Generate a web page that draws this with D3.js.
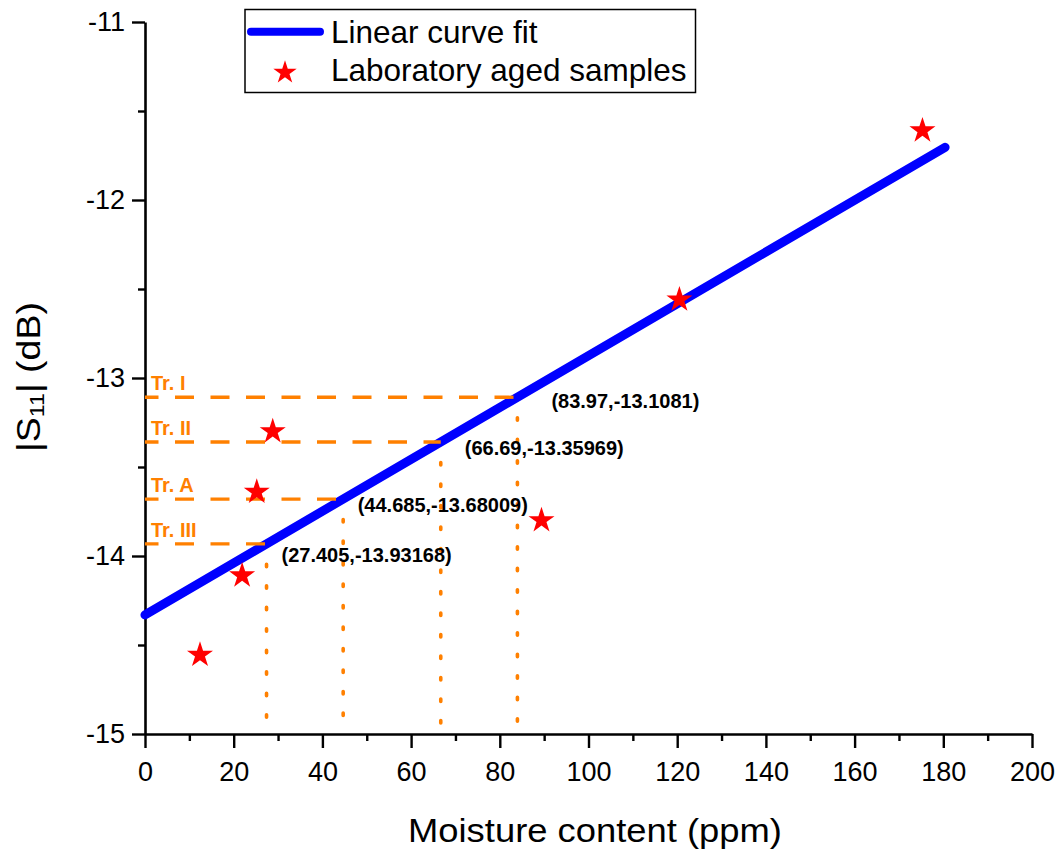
<!DOCTYPE html>
<html>
<head>
<meta charset="utf-8">
<script src="https://cdn.jsdelivr.net/npm/d3@7"></script>
<style>
  body { margin: 0; background: #fff; }
  svg { display: block; font-family: "Liberation Sans", Arial, sans-serif; }
</style>
</head>
<body>
<svg id="chart" width="1063" height="854"></svg>
<script>
// Axis ticks
const xTickValues = [0, 20, 40, 60, 80, 100, 120, 140, 160, 180, 200];
const xMinorTicks = [10, 30, 50, 70, 90, 110, 130, 150, 170, 190];
const yTickValues = [-15, -14, -13, -12, -11];
const yMinorTicks = [-14.5, -13.5, -12.5, -11.5];

// Laboratory aged samples: moisture (ppm) vs |S11| (dB)
const sampleMoisture = [12.4, 21.9, 25.2, 28.8, 89.4, 120.5, 175.3];
const sampleS11 = [-14.556, -14.11, -13.64, -13.30, -13.80, -12.56, -11.61];

// Linear curve fit end points
const fitMoisture = [0, 180.4];
const fitS11 = [-14.3307, -11.7041];

// Field transformers
const transformerNames = ["Tr. I", "Tr. II", "Tr. A", "Tr. III"];
const transformerMoisture = [83.97, 66.69, 44.685, 27.405];
const transformerS11 = [-13.1081, -13.35969, -13.68009, -13.93168];

const legendLabels = ["Linear curve fit", "Laboratory aged samples"];

// Placement of the coordinate annotations relative to their point
const annotationOffsets = [[34, 11], [24, 13], [14.5, 12.7], [15, 18]];

const ORANGE = "#ff8000";
const BLUE = "#0000ff";
const RED = "#ff0000";

const svg = d3.select("#chart");
const x = d3.scaleLinear().domain([0, 200]).range([145, 1032]);
const y = d3.scaleLinear().domain([-15, -11]).range([734, 22]);

// plain hyphen-minus tick labels
const plainFormat = d => String(d);

// ---- axes ----
function styleAxis(g) {
  g.selectAll("path.domain").attr("stroke", "#000").attr("stroke-width", 2.6);
  g.selectAll(".tick line").attr("stroke", "#000").attr("stroke-width", 2.4);
  g.selectAll(".tick text").attr("fill", "#000").attr("font-size", 27)
    .attr("font-family", "'Liberation Sans', Arial, sans-serif");
}

const xAxisG = svg.append("g").attr("transform", `translate(0,${y(-15)})`)
  .call(d3.axisBottom(x).tickValues(xTickValues).tickFormat(plainFormat)
    .tickSize(14).tickSizeOuter(0).tickPadding(14));
styleAxis(xAxisG);
const xMinorG = svg.append("g").attr("transform", `translate(0,${y(-15)})`)
  .call(d3.axisBottom(x).tickValues(xMinorTicks).tickSize(7).tickFormat(""));
xMinorG.select("path.domain").remove();
styleAxis(xMinorG);

const yAxisG = svg.append("g").attr("transform", `translate(${x(0)},0)`)
  .call(d3.axisLeft(y).tickValues(yTickValues).tickFormat(plainFormat)
    .tickSize(13).tickSizeOuter(0).tickPadding(7));
styleAxis(yAxisG);
const yMinorG = svg.append("g").attr("transform", `translate(${x(0)},0)`)
  .call(d3.axisLeft(y).tickValues(yMinorTicks).tickSize(7).tickFormat(""));
yMinorG.select("path.domain").remove();
styleAxis(yMinorG);

// ---- axis titles ----
svg.append("text")
  .attr("x", 595).attr("y", 842)
  .attr("text-anchor", "middle")
  .attr("font-size", 34)
  .attr("textLength", 374).attr("lengthAdjust", "spacingAndGlyphs")
  .text("Moisture content (ppm)");

const yTitle = svg.append("text")
  .attr("transform", "translate(40,377) rotate(-90)")
  .attr("text-anchor", "middle")
  .attr("font-size", 34)
  .attr("textLength", 150).attr("lengthAdjust", "spacingAndGlyphs");
yTitle.append("tspan").text("|S");
yTitle.append("tspan").attr("font-size", 21).attr("dy", 4).text("11");
yTitle.append("tspan").attr("dy", -4).text("| (dB)");

// ---- linear fit ----
const fitPoints = fitMoisture.map((m, i) => [m, fitS11[i]]);
svg.append("path")
  .datum(fitPoints)
  .attr("d", d3.line().x(d => x(d[0])).y(d => y(d[1])))
  .attr("fill", "none")
  .attr("stroke", BLUE)
  .attr("stroke-width", 9)
  .attr("stroke-linecap", "round");

// ---- transformer guide lines ----
const transformers = transformerNames.map((name, i) => ({
  name, m: transformerMoisture[i], s: transformerS11[i], off: annotationOffsets[i]
}));

const guides = svg.append("g");
guides.selectAll("line.h").data(transformers).join("line")
  .attr("class", "h")
  .attr("x1", x(0)).attr("x2", d => x(d.m))
  .attr("y1", d => y(d.s)).attr("y2", d => y(d.s))
  .attr("stroke", ORANGE).attr("stroke-width", 3.3)
  .attr("stroke-dasharray", "19,16.5").attr("stroke-dashoffset", 5.5);

guides.selectAll("line.v").data(transformers).join("line")
  .attr("class", "v")
  .attr("x1", d => x(d.m)).attr("x2", d => x(d.m))
  .attr("y1", d => y(d.s) + 2).attr("y2", y(-15) - 4)
  .attr("stroke", ORANGE).attr("stroke-width", 3.6)
  .attr("stroke-linecap", "round")
  .attr("stroke-dasharray", "2.4,19.1").attr("stroke-dashoffset", -18.5);

guides.selectAll("text.name").data(transformers).join("text")
  .attr("class", "name")
  .attr("x", x(0) + 6).attr("y", d => y(d.s) - 7)
  .attr("fill", ORANGE).attr("font-size", 20).attr("font-weight", "bold")
  .text(d => d.name);

guides.selectAll("text.coord").data(transformers).join("text")
  .attr("class", "coord")
  .attr("x", d => x(d.m) + d.off[0]).attr("y", d => y(d.s) + d.off[1])
  .attr("fill", "#000").attr("font-size", 20).attr("font-weight", "bold")
  .text(d => `(${d.m},${d.s})`);

// ---- samples ----
const samples = sampleMoisture.map((m, i) => [m, sampleS11[i]]);
svg.append("g").selectAll("path").data(samples).join("path")
  .attr("transform", d => `translate(${x(d[0])},${y(d[1])})`)
  .attr("d", d3.symbol(d3.symbolStar, 210))
  .attr("fill", RED);

// ---- legend ----
const legend = svg.append("g");
legend.append("rect")
  .attr("x", 245).attr("y", 9.5).attr("width", 450.5).attr("height", 83)
  .attr("fill", "#fff").attr("stroke", "#000").attr("stroke-width", 1.5);
legend.append("line")
  .attr("x1", 251).attr("x2", 320).attr("y1", 31.7).attr("y2", 31.7)
  .attr("stroke", BLUE).attr("stroke-width", 8).attr("stroke-linecap", "round");
legend.append("path")
  .attr("transform", "translate(285,72.5)")
  .attr("d", d3.symbol(d3.symbolStar, 170))
  .attr("fill", RED);
legend.selectAll("text").data(legendLabels).join("text")
  .attr("x", 331).attr("y", (d, i) => i === 0 ? 42.7 : 81)
  .attr("font-size", 31.5).attr("fill", "#000")
  .text(d => d);
</script>
</body>
</html>
